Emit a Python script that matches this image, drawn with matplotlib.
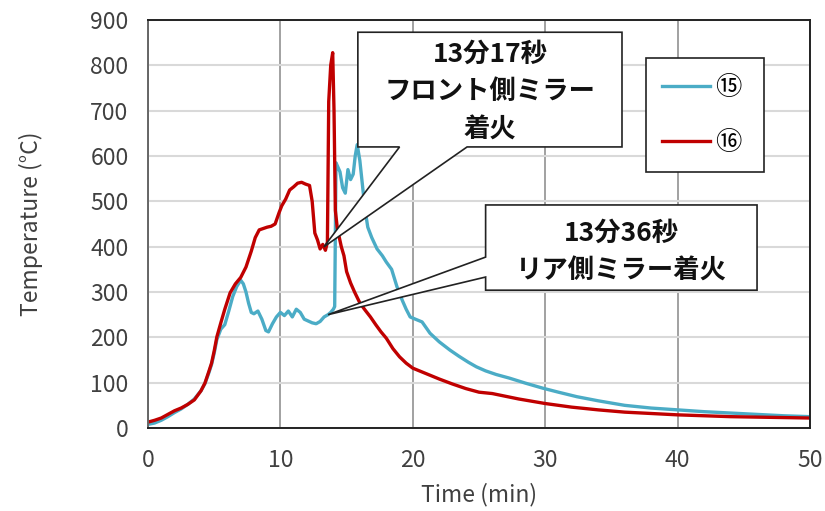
import numpy as np
import matplotlib.pyplot as plt
from matplotlib.patches import Polygon

plt.rcParams['font.family'] = ['Noto Sans CJK JP', 'DejaVu Sans']

# ⑯ (red) - time in min, temperature in C
red_t = [0, 0.5, 1.0, 1.5, 2.0, 2.5, 3.0, 3.5, 4.0, 4.3, 4.6, 4.8, 5.0, 5.2, 5.5, 5.8, 6.2, 6.6, 7.0, 7.4,
         7.8, 8.1, 8.4, 8.7, 9.0, 9.3, 9.6, 9.9, 10.1, 10.4, 10.7, 11.0, 11.3, 11.6, 11.9, 12.2, 12.4, 12.6, 12.8, 13.0,
         13.2, 13.4, 13.55, 13.65, 13.8, 13.95, 14.05, 14.15, 14.3, 14.45, 14.6, 14.8, 15.0, 15.3, 15.6, 16.0, 16.4, 16.8, 17.2, 17.6,
         18.0, 18.5, 19.0, 19.5, 20.0, 20.5, 21, 22, 23, 24, 25, 26, 27, 28, 29, 30, 32, 34, 36, 38,
         40, 42, 44, 46, 48, 50]
red_v = [13, 17, 22, 30, 38, 44, 52, 62, 82, 99, 125, 143, 170, 201, 232, 262, 298, 318, 332, 355,
         390, 420, 437, 440, 443, 445, 450, 475, 490, 505, 525, 532, 540, 542, 538, 535, 500, 430, 415, 395,
         405, 392, 410, 720, 800, 828, 700, 480, 440, 420, 400, 380, 345, 320, 300, 276, 260, 245, 228, 212,
         198, 175, 157, 143, 132, 126, 120, 108, 97, 87, 79, 76, 70, 64, 59, 54, 46, 40, 35, 32,
         29, 27, 25, 24, 23, 22]

# ⑮ (blue)
blue_t = [0, 0.5, 1.0, 1.5, 2.0, 2.5, 3.0, 3.5, 4.0, 4.3, 4.6, 4.8, 5.0, 5.2, 5.5, 5.8, 6.1, 6.4, 6.7, 7.0,
          7.2, 7.4, 7.6, 7.8, 8.0, 8.3, 8.6, 8.9, 9.1, 9.4, 9.7, 10.0, 10.3, 10.6, 10.9, 11.2, 11.5, 11.8, 12.1, 12.4,
          12.7, 13.0, 13.3, 13.6, 13.8, 14.0, 14.1, 14.2, 14.35, 14.5, 14.7, 14.9, 15.1, 15.3, 15.5, 15.65, 15.8, 16.0, 16.2, 16.4,
          16.6, 16.9, 17.3, 17.7, 18.0, 18.4, 18.8, 19.2, 19.5, 19.8, 20.2, 20.7, 21.3, 22.0, 22.8, 23.5, 24.2, 24.8, 25.5, 26.3,
          27.3, 28.5, 29.8, 31.0, 32.4, 34.0, 36, 38, 40, 42, 44, 46, 48, 50]
blue_v = [8, 11, 17, 25, 34, 42, 52, 64, 82, 98, 122, 140, 165, 195, 218, 228, 258, 290, 312, 326,
          318, 300, 275, 255, 252, 258, 240, 215, 212, 230, 245, 255, 248, 258, 245, 262, 255, 240, 236, 232,
          230, 235, 245, 250, 255, 262, 268, 585, 575, 565, 530, 518, 570, 548, 560, 600, 625, 590, 535, 480,
          443, 420, 395, 380, 366, 350, 312, 282, 262, 245, 240, 234, 209, 190, 172, 158, 145, 135, 126, 118,
          110, 99, 88, 79, 69, 60, 50, 44, 40, 36, 33, 30, 27, 25]

labels = ['⑮', '⑯']
colors = ['#4bacc6', '#c00000']

# ignition times (min)
t_front = 13 + 17 / 60
t_rear = 13 + 36 / 60

fig = plt.figure(figsize=(8.25, 5.11), dpi=100)
ax = fig.add_axes([148 / 825, 1 - 428 / 511, 662 / 825, 408 / 511])

ax.plot(blue_t, blue_v, color=colors[0], lw=2.4, label=labels[0])
ax.plot(red_t, red_v, color=colors[1], lw=2.4, label=labels[1])

ax.set_xlim(0, 50)
ax.set_ylim(0, 900)
ax.set_xticks(np.arange(0, 51, 10))
ax.set_yticks(np.arange(0, 901, 100))
ax.set_axisbelow(True)
ax.yaxis.grid(True, color='#d9d9d9', lw=1.5)
ax.xaxis.grid(True, color='#9a9a9a', lw=1.3)
for s in ax.spines.values():
    s.set_color('#222222')
    s.set_linewidth(1.4)
ax.spines['left'].set_color('#666666')
ax.tick_params(axis='both', length=0, labelsize=16.5, labelcolor='#404040')
ax.tick_params(axis='y', pad=14)
ax.tick_params(axis='x', pad=15)
ax.set_xlabel('Time (min)', fontsize=16.5, color='#404040', labelpad=8)
ax.set_ylabel('Temperature (°C)', fontsize=16.5, color='#404040', labelpad=34)

# callout 1 : front mirror
y_front = np.interp(t_front, red_t, red_v)
bx0, bx1, by0, by1 = 15.85, 35.8, 620, 873
b1 = [(bx0, by1), (bx1, by1), (bx1, by0), (24.1, by0), (t_front, y_front),
      (19.0, by0), (bx0, by0)]
ax.add_patch(Polygon(b1, closed=True, facecolor='white', edgecolor='#222222',
                     lw=1.2, zorder=5, clip_on=False))
ax.text((bx0 + bx1) / 2, (by0 + by1) / 2 - 5, '13分17秒\nフロント側ミラー\n着火',
        ha='center', va='center', fontsize=19, fontweight='bold', color='#111111',
        linespacing=1.5, zorder=6)

# callout 2 : rear mirror
y_rear = np.interp(t_rear, blue_t, blue_v)
cx0, cx1, cy0, cy1 = 25.5, 46.0, 304, 492
b2 = [(cx0, cy1), (cx1, cy1), (cx1, cy0), (cx0, cy0), (cx0, 333),
      (t_rear, y_rear), (cx0, 377)]
ax.add_patch(Polygon(b2, closed=True, facecolor='white', edgecolor='#222222',
                     lw=1.2, zorder=5, clip_on=False))
ax.text((cx0 + cx1) / 2, (cy0 + cy1) / 2 - 10, '13分36秒\nリア側ミラー着火',
        ha='center', va='center', fontsize=19, fontweight='bold', color='#111111',
        linespacing=1.5, zorder=6)

leg = ax.legend(loc='upper left', bbox_to_anchor=(633 / 825, 1 - 159 / 511, 144 / 825, 114 / 511),
                bbox_transform=fig.transFigure, mode='expand', fontsize=19,
                frameon=True, fancybox=False, edgecolor='#222222', framealpha=1,
                handlelength=1.8, handletextpad=0.2, labelspacing=1.05, borderpad=0.6)
leg.get_frame().set_linewidth(1.2)
leg.set_zorder(10)

fig.savefig('out.png', dpi=100)
